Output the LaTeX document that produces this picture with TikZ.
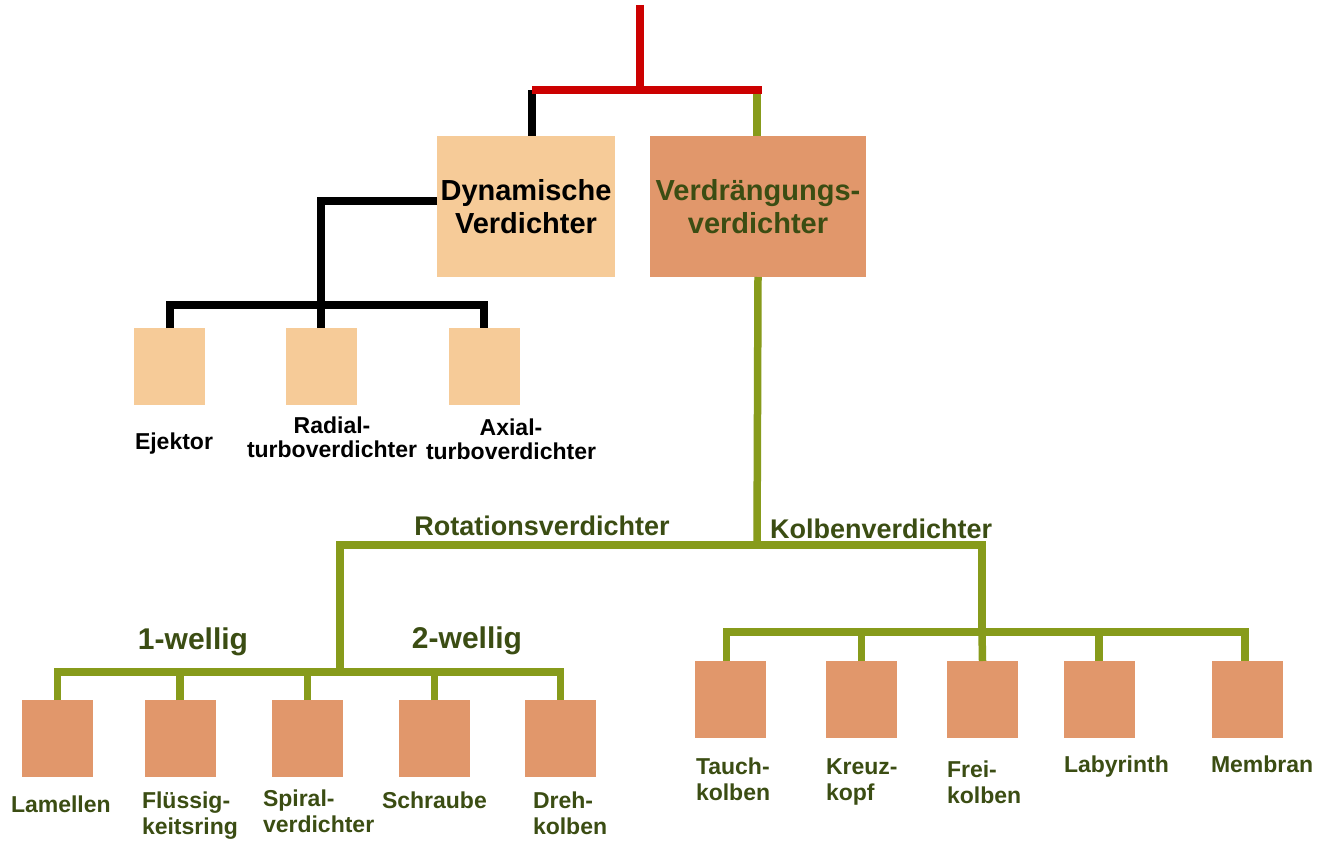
\documentclass[tikz,border=0pt]{standalone}
\usepackage{fontspec}
\setmainfont{Liberation Sans}
\definecolor{boxlight}{HTML}{F6CB98}
\definecolor{boxdark}{HTML}{E1976B}
\definecolor{lgreen}{HTML}{879B1B}
\definecolor{tgreen}{HTML}{3B4D13}
\definecolor{lred}{HTML}{CC0000}
\newcommand{\two}[3]{\begin{tabular}[t]{@{}#1@{}}#2\\#3\end{tabular}}
\begin{document}
\begin{tikzpicture}[x=1pt,y=-1pt,
  lbox/.style={fill=boxlight, minimum width=71, minimum height=77, inner sep=0, outer sep=0},
  dbox/.style={fill=boxdark, minimum width=71, minimum height=77, inner sep=0, outer sep=0},
  bigbox/.style={minimum width=178, minimum height=141, inner sep=0, outer sep=0, align=center, font=\fontsize{29}{33}\selectfont\bfseries},
  blk/.style={draw=black, line width=8},
  grn/.style={draw=lgreen, line width=7.5},
  rd/.style={draw=lred, line width=8.5},
  slbl/.style={inner sep=0, outer sep=0, font=\fontsize{23}{26}\selectfont\bfseries, text=tgreen},
  klbl/.style={inner sep=0, outer sep=0, font=\fontsize{23}{24}\selectfont\bfseries, text=black},
  mlbl/.style={inner sep=0, outer sep=0, font=\fontsize{27}{30}\selectfont\bfseries, text=tgreen},
  wlbl/.style={inner sep=0, outer sep=0, font=\fontsize{30}{33}\selectfont\bfseries, text=tgreen}
]
\useasboundingbox[fill=white] (0,0) rectangle (1321,843);

% main boxes
\node[bigbox, fill=boxlight, text=black] (dyn) at (526,206.5) {Dynamische\\Verdichter};
\node[bigbox, fill=boxdark, text=tgreen, minimum width=216] (verd) at (758,206.5) {Verdrängungs-\\verdichter};

% dynamic children
\node[lbox] (eje) at (169.5,366.5) {};
\node[lbox] (rad) at (321,366.5) {};
\node[lbox] (axi) at (484,366.5) {};

% rotary children
\node[dbox] (lam) at (57.5,738.5) {};
\node[dbox] (flu) at (180,738.5) {};
\node[dbox] (spi) at (307.5,738.5) {};
\node[dbox] (sch) at (434.5,738.5) {};
\node[dbox] (dre) at (560.5,738.5) {};

% piston children
\node[dbox] (tau) at (730.5,699.5) {};
\node[dbox] (kre) at (861.5,699.5) {};
\node[dbox] (fre) at (982.5,699.5) {};
\node[dbox] (lab) at (1099,699.5) {};
\node[dbox] (mem) at (1247,699.5) {};

% junction coordinates
\coordinate (top) at (640,5);
\coordinate (rj0) at (640,90);
\coordinate (rl) at (532,90);
\coordinate (rr) at (762,90);
\coordinate (gr) at (757,90);
\coordinate (b1) at (322,201);
\coordinate (bj) at (322,305);
\coordinate (gj) at (757,545);
\coordinate (rj) at (340,672);
\coordinate (kj) at (982,632);

% black connectors
\draw[blk] (rl) -- (rl |- dyn.north);
\draw[blk] (dyn.west |- b1) -| (rad.north);
\draw[blk] (eje.north) |- (bj) -| (axi.north);

% green connectors
\draw[grn] (gr) -- (gr |- verd.north);
\draw[grn] (verd.south) -- (gj);
\draw[grn] (rj) |- (gj) -| (kj);
\draw[grn] (kj) -- (fre.north);
\draw[grn] (lam.north) |- (rj) -| (dre.north);
\draw[grn] (flu.north) -- (flu.north |- rj);
\draw[grn] (spi.north) -- (spi.north |- rj);
\draw[grn] (sch.north) -- (sch.north |- rj);
\draw[grn] ([xshift=-4]tau.north) |- (kj) -| ([xshift=-2]mem.north);
\draw[grn] (kre.north) -- (kre.north |- kj);
\draw[grn] (lab.north) -- (lab.north |- kj);

% red connectors
\draw[rd] (top) -- (rj0);
\draw[rd] (rl) -- (rr);

% labels dynamic
\node[klbl, anchor=base west] (leje) at (135,449) {Ejektor};
\node[klbl, anchor=base] (lrad) at (332,433) {\two{c}{Radial-}{turboverdichter}};
\node[klbl, anchor=base] (laxi) at (511,435) {\two{c}{Axial-}{turboverdichter}};

% mid labels
\node[mlbl, anchor=base] (lrot) at (542,535) {Rotationsverdichter};
\node[mlbl, anchor=base west] (lkol) at (770,538) {Kolbenverdichter};
\node[wlbl, anchor=base] (w1) at (193,649) {1-wellig};
\node[wlbl, anchor=base] (w2) at (467,648) {2-wellig};

% rotary labels
\node[slbl, anchor=base west] (llam) at (11,812) {Lamellen};
\node[slbl, anchor=base west] (lflu) at (142,808) {\two{l}{Flüssig-}{keitsring}};
\node[slbl, anchor=base west] (lspi) at (263,806) {\two{l}{Spiral-}{verdichter}};
\node[slbl, anchor=base west] (lsch) at (382,808) {Schraube};
\node[slbl, anchor=base west] (ldre) at (533,808) {\two{l}{Dreh-}{kolben}};

% piston labels
\node[slbl, anchor=base west] (ltau) at (696,774) {\two{l}{Tauch-}{kolben}};
\node[slbl, anchor=base west] (lkre) at (826,774) {\two{l}{Kreuz-}{kopf}};
\node[slbl, anchor=base west] (lfre) at (947,777) {\two{l}{Frei-}{kolben}};
\node[slbl, anchor=base west] (llab) at (1064,772) {Labyrinth};
\node[slbl, anchor=base west] (lmem) at (1211,772) {Membran};
\end{tikzpicture}
\end{document}
